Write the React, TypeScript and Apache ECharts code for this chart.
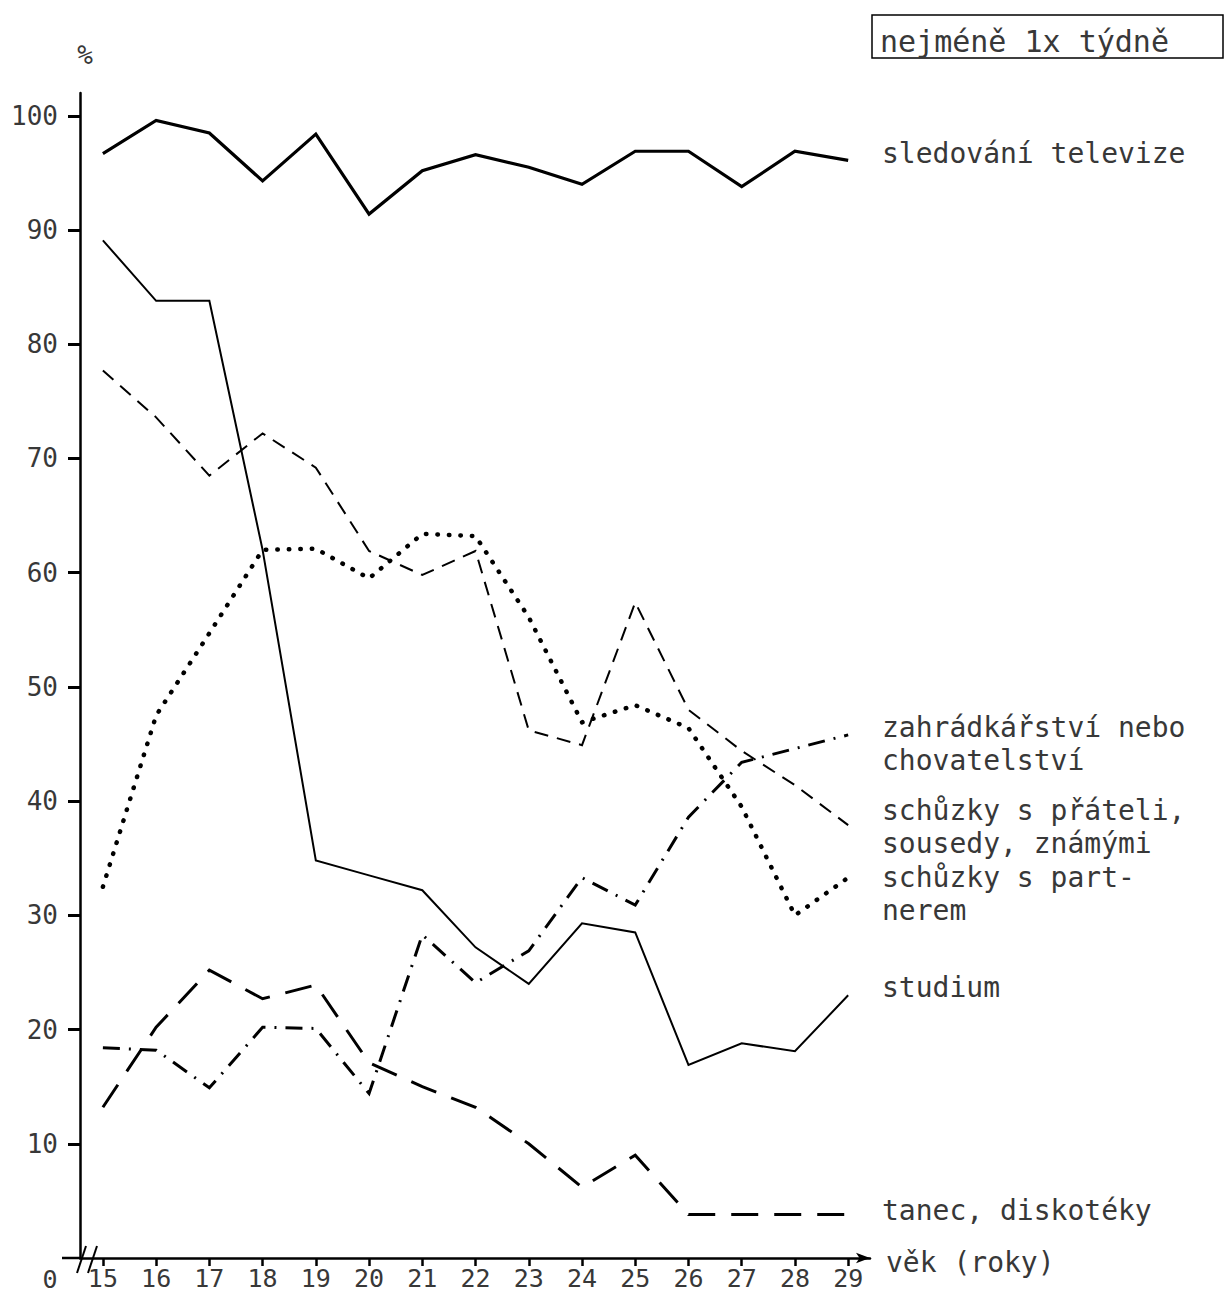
import React, { useEffect, useRef } from "react";
import * as echarts from "echarts";

const ages = [15, 16, 17, 18, 19, 20, 21, 22, 23, 24, 25, 26, 27, 28, 29];
const yTicks = [10, 20, 30, 40, 50, 60, 70, 80, 90, 100];

const televize = [96.7, 99.6, 98.5, 94.3, 98.4, 91.4, 95.2, 96.6, 95.5, 94.0, 96.9, 96.9, 93.8, 96.9, 96.1];
const studium = [89.1, 83.8, 83.8, 62.0, 34.8, 33.5, 32.2, 27.2, 24.0, 29.3, 28.5, 16.9, 18.8, 18.1, 23.0];
const pratele = [77.7, 73.6, 68.5, 72.2, 69.2, 61.9, 59.8, 61.9, 46.2, 44.9, 57.4, 48.0, 44.4, 41.4, 37.9];
const zahradka = [32.5, 47.5, 54.7, 62.0, 62.1, 59.5, 63.4, 63.2, 56.1, 46.9, 48.4, 46.4, 39.5, 30.0, 33.3];
const partner = [18.4, 18.2, 14.9, 20.2, 20.1, 14.4, 28.3, 24.1, 26.9, 33.3, 30.9, 38.6, 43.4, 44.6, 45.8];
const tanec = [13.2, 20.2, 25.2, 22.7, 23.9, 17.1, 15.0, 13.2, 10.0, 6.2, 9.0, 3.8, 3.8, 3.8, 3.8];

const MONO = "'DejaVu Sans Mono', 'Liberation Mono', monospace";
const TXT = "#383838";

const pairs = (vals: number[]) => ages.map((a, i) => [a, vals[i]]);

const label = (text: string, x: number, y: number, size = 28) => ({
  type: "text",
  x,
  y,
  silent: true,
  style: {
    text,
    fontSize: size,
    fontFamily: MONO,
    fill: TXT,
    textAlign: "left",
    textVerticalAlign: "middle",
  },
});

export default function App() {
  const ref = useRef<HTMLDivElement>(null);

  useEffect(() => {
    const chart = echarts.init(ref.current!, null, { renderer: "svg" });
    const line = (name: string, vals: number[], width: number, type: any, cap = "butt") => ({
      name,
      type: "line",
      data: pairs(vals),
      showSymbol: false,
      symbol: "none",
      lineStyle: { color: "#000", width, type, cap, join: "miter" },
      z: 3,
    });
    chart.setOption({
      animation: false,
      backgroundColor: "#fff",
      grid: { left: 80, top: 93, right: 356, bottom: 36, containLabel: false },
      xAxis: {
        type: "value",
        min: 14.57,
        max: 29.41,
        axisLine: {
          show: true,
          lineStyle: { color: "#000", width: 2.5 },
          symbol: ["none", "arrow"],
          symbolSize: [8, 14],
        },
        axisTick: {
          show: true,
          inside: false,
          length: 8,
          lineStyle: { color: "#000", width: 2.5 },
          customValues: ages,
        },
        axisLabel: {
          customValues: ages,
          fontSize: 25,
          fontFamily: MONO,
          color: TXT,
          margin: 8,
        },
        splitLine: { show: false },
      },
      yAxis: {
        type: "value",
        min: 0,
        max: 102,
        axisLine: { show: true, lineStyle: { color: "#000", width: 2.5 } },
        axisTick: {
          show: true,
          length: 12,
          lineStyle: { color: "#000", width: 3 },
          customValues: yTicks,
        },
        axisLabel: {
          customValues: yTicks,
          fontSize: 26,
          fontFamily: MONO,
          color: TXT,
          margin: 22,
        },
        splitLine: { show: false },
      },
      series: [
        line("sledování televize", televize, 3.2, "solid"),
        line("studium", studium, 2, "solid"),
        line("schůzky s přáteli, sousedy, známými", pratele, 2, [14, 9]),
        line("zahrádkářství nebo chovatelství", zahradka, 4.5, [0.5, 11], "round"),
        line("schůzky s partnerem", partner, 3, [17, 9, 2, 9]),
        line("tanec, diskotéky", tanec, 3, [27, 16]),
      ],
      graphic: [
        { type: "line", silent: true, shape: { x1: 62, y1: 1258, x2: 80, y2: 1258 }, style: { stroke: "#000", lineWidth: 2.5 } },
        { type: "line", silent: true, shape: { x1: 77, y1: 1273, x2: 86, y2: 1246 }, style: { stroke: "#000", lineWidth: 2 } },
        { type: "line", silent: true, shape: { x1: 88, y1: 1273, x2: 97, y2: 1246 }, style: { stroke: "#000", lineWidth: 2 } },
        {
          type: "text",
          x: 85,
          y: 55,
          silent: true,
          style: { text: "%", fontSize: 26, fontFamily: MONO, fill: TXT, textAlign: "center", textVerticalAlign: "middle" },
        },
        {
          type: "text",
          x: 50,
          y: 1279,
          silent: true,
          style: { text: "0", fontSize: 25, fontFamily: MONO, fill: TXT, textAlign: "center", textVerticalAlign: "middle" },
        },
        {
          type: "rect",
          silent: true,
          shape: { x: 872, y: 15, width: 351, height: 43 },
          style: { fill: "none", stroke: "#000", lineWidth: 1.5 },
        },
        label("nejméně 1x týdně", 880, 41, 30),
        label("sledování televize", 882, 153),
        label("zahrádkářství nebo", 882, 727),
        label("chovatelství", 882, 760),
        label("schůzky s přáteli,", 882, 810),
        label("sousedy, známými", 882, 843),
        label("schůzky s part-", 882, 877),
        label("nerem", 882, 910),
        label("studium", 882, 987),
        label("tanec, diskotéky", 882, 1210),
        label("věk (roky)", 886, 1262),
      ],
    });
    return () => chart.dispose();
  }, []);

  return (
    <div
      ref={ref}
      style={{ position: "fixed", left: 0, top: 0, width: 1226, height: 1294, background: "#fff" }}
    />
  );
}
